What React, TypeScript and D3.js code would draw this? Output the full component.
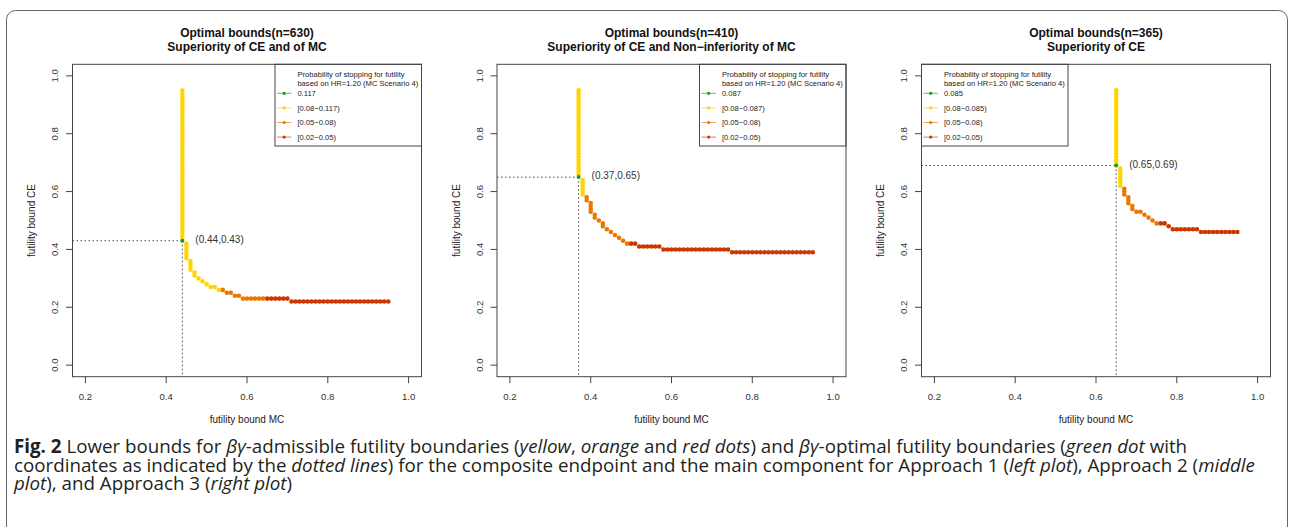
import React from 'react';
import * as d3 from 'd3';

const W = 1289;
const H = 527;

// plot box geometry (R-style base plot, 3 panels side by side)
const panelLefts = [72.5, 497, 921.5];
const PT = 64.3;
const PW = 349;
const PH = 312.4;

const levelColors = ['#1c9a1c', '#FFD400', '#EE7600', '#CD3700'];
const legendLineColors = ['#55cc55', '#ffe04a', '#f4a453', '#d9805f'];

const titleLine1 = ['Optimal bounds(n=630)', 'Optimal bounds(n=410)', 'Optimal bounds(n=365)'];
const titleLine2 = [
  'Superiority of CE and of MC',
  'Superiority of CE and Non\u2212inferiority of MC',
  'Superiority of CE',
];
const legendTitle = ['Probability of stopping for futility', 'based on HR=1.20 (MC Scenario 4)'];
const legendLabels = [
  ['0.117', '[0.08\u22120.117)', '[0.05\u22120.08)', '[0.02\u22120.05)'],
  ['0.087', '[0.08\u22120.087)', '[0.05\u22120.08)', '[0.02\u22120.05)'],
  ['0.085', '[0.08\u22120.085)', '[0.05\u22120.08)', '[0.02\u22120.05)'],
];
const legendSide = ['right', 'right', 'left'];

const optimum = [
  [0.44, 0.43],
  [0.37, 0.65],
  [0.65, 0.69],
];

const xTicks = [0.2, 0.4, 0.6, 0.8, 1.0];
const yTicks = [0.0, 0.2, 0.4, 0.6, 0.8, 1.0];

// resolution of the bound grid
const gridStep = 0.01;

// runs of admissible lower bounds: [mcFrom, mcTo, ceFrom, ceTo, level]
// level 0 = optimal (green), 1 = yellow, 2 = orange, 3 = red
const runs1 = [
  [0.44, 0.44, 0.44, 0.95, 1],
  [0.45, 0.45, 0.37, 0.42, 1],
  [0.46, 0.46, 0.33, 0.36, 1],
  [0.47, 0.47, 0.31, 0.32, 1],
  [0.48, 0.48, 0.30, 0.30, 1],
  [0.49, 0.49, 0.29, 0.29, 1],
  [0.50, 0.50, 0.28, 0.28, 1],
  [0.51, 0.52, 0.27, 0.27, 1],
  [0.53, 0.53, 0.26, 0.26, 1],
  [0.54, 0.54, 0.26, 0.26, 2],
  [0.55, 0.56, 0.25, 0.25, 2],
  [0.57, 0.58, 0.24, 0.24, 2],
  [0.59, 0.64, 0.23, 0.23, 2],
  [0.65, 0.70, 0.23, 0.23, 3],
  [0.71, 0.95, 0.22, 0.22, 3],
  [0.44, 0.44, 0.43, 0.43, 0],
];

const runs2 = [
  [0.37, 0.37, 0.66, 0.95, 1],
  [0.38, 0.38, 0.59, 0.64, 1],
  [0.39, 0.39, 0.57, 0.58, 2],
  [0.40, 0.40, 0.53, 0.56, 2],
  [0.41, 0.41, 0.51, 0.52, 2],
  [0.42, 0.42, 0.50, 0.50, 2],
  [0.43, 0.43, 0.48, 0.49, 2],
  [0.44, 0.44, 0.47, 0.47, 2],
  [0.45, 0.45, 0.46, 0.46, 2],
  [0.46, 0.46, 0.45, 0.45, 2],
  [0.47, 0.47, 0.44, 0.44, 2],
  [0.48, 0.48, 0.43, 0.43, 2],
  [0.49, 0.49, 0.42, 0.42, 2],
  [0.50, 0.51, 0.42, 0.42, 3],
  [0.52, 0.57, 0.41, 0.41, 3],
  [0.58, 0.74, 0.40, 0.40, 3],
  [0.75, 0.95, 0.39, 0.39, 3],
  [0.37, 0.37, 0.65, 0.65, 0],
];

const runs3 = [
  [0.65, 0.65, 0.70, 0.95, 1],
  [0.66, 0.66, 0.62, 0.68, 1],
  [0.67, 0.67, 0.59, 0.61, 2],
  [0.68, 0.68, 0.56, 0.58, 2],
  [0.69, 0.69, 0.54, 0.55, 2],
  [0.70, 0.71, 0.53, 0.53, 2],
  [0.72, 0.72, 0.52, 0.52, 2],
  [0.73, 0.73, 0.51, 0.51, 2],
  [0.74, 0.74, 0.50, 0.50, 2],
  [0.75, 0.75, 0.49, 0.49, 2],
  [0.76, 0.77, 0.49, 0.49, 3],
  [0.78, 0.78, 0.48, 0.48, 3],
  [0.79, 0.85, 0.47, 0.47, 3],
  [0.86, 0.95, 0.46, 0.46, 3],
  [0.65, 0.65, 0.69, 0.69, 0],
];

const allRuns = [runs1, runs2, runs3];

const sans = '"Liberation Sans", Arial, Helvetica, sans-serif';
const captionFont = '"Open Sans", "Noto Sans", sans-serif';

function Panel({ i }) {
  const left = panelLefts[i];
  const x = d3.scaleLinear().domain([0.168, 1.032]).range([left, left + PW]);
  const y = d3.scaleLinear().domain([-0.04, 1.04]).range([PT + PH, PT]);
  const cx = left + PW / 2;
  const cy = PT + PH / 2;
  const [ox, oy] = optimum[i];

  const stepX = x(gridStep) - x(0);
  const stepY = y(0) - y(gridStep);

  // legend box
  const lw = 146.5;
  const lh = 81.7;
  const lx = legendSide[i] === 'right' ? left + PW - lw : left;
  const ly = PT;

  return (
    <g>
      {/* titles */}
      <text x={cx} y={37} textAnchor="middle" fontFamily={sans} fontWeight="bold" fontSize={12} fill="#111">
        {titleLine1[i]}
      </text>
      <text x={cx} y={51.4} textAnchor="middle" fontFamily={sans} fontWeight="bold" fontSize={12} fill="#111">
        {titleLine2[i]}
      </text>

      {/* dotted reference lines */}
      <line x1={left} x2={x(ox)} y1={y(oy)} y2={y(oy)} stroke="#444" strokeWidth={1} strokeDasharray="1.5 2.5" />
      <line x1={x(ox)} x2={x(ox)} y1={y(oy)} y2={PT + PH} stroke="#444" strokeWidth={1} strokeDasharray="1.5 2.5" />

      {/* bound points */}
      {allRuns[i].map((r, k) => {
        const [a, b, c, d, lev] = r;
        const col = levelColors[lev];
        if (a === b && c === d) {
          return <circle key={k} cx={x(a)} cy={y(c)} r={lev === 0 ? 2 : 2.3} fill={col} />;
        }
        const s = (a === b ? stepY : stepX) - 0.002;
        return (
          <path
            key={k}
            d={`M${x(a)},${y(c)}L${x(b)},${y(d)}`}
            stroke={col}
            strokeWidth={4.6}
            strokeLinecap="round"
            strokeDasharray={`0 ${s}`}
            fill="none"
          />
        );
      })}

      <text x={x(ox) + 13} y={y(oy) + 2} fontFamily={sans} fontSize={10} fill="#333">
        {`(${ox.toFixed(2)},${oy.toFixed(2)})`}
      </text>

      {/* legend */}
      <rect x={lx} y={ly} width={lw} height={lh} fill="#fff" stroke="#444" strokeWidth={1} />
      {legendTitle.map((t, k) => (
        <text key={k} x={lx + 22.4} y={ly + 13 + k * 8.6} fontFamily={sans} fontSize={7.6} fill="#222">
          {t}
        </text>
      ))}
      {legendLabels[i].map((t, k) => {
        const yy = ly + 29 + k * 14.6;
        return (
          <g key={k}>
            <line x1={lx + 2} x2={lx + 16.4} y1={yy} y2={yy} stroke={legendLineColors[k]} strokeWidth={1} />
            <circle cx={lx + 9.2} cy={yy} r={1.6} fill={levelColors[k]} />
            <text x={lx + 22.4} y={yy + 2.7} fontFamily={sans} fontSize={7.6} fill="#222">
              {t}
            </text>
          </g>
        );
      })}

      {/* box */}
      <rect x={left} y={PT} width={PW} height={PH} fill="none" stroke="#444" strokeWidth={1} />

      {/* x axis */}
      {xTicks.map((t) => (
        <g key={t}>
          <line x1={x(t)} x2={x(t)} y1={PT + PH} y2={PT + PH + 6.5} stroke="#444" />
          <text x={x(t)} y={400.3} textAnchor="middle" fontFamily={sans} fontSize={9.6} fill="#333">
            {t.toFixed(1)}
          </text>
        </g>
      ))}
      <text x={cx} y={423} textAnchor="middle" fontFamily={sans} fontSize={10} fill="#222">
        futility bound MC
      </text>

      {/* y axis */}
      {yTicks.map((t) => (
        <g key={t}>
          <line x1={left} x2={left - 6.5} y1={y(t)} y2={y(t)} stroke="#444" />
          <text
            transform={`translate(${left - 14.2},${y(t)}) rotate(-90)`}
            textAnchor="middle"
            fontFamily={sans}
            fontSize={9.6}
            fill="#333"
          >
            {t.toFixed(1)}
          </text>
        </g>
      ))}
      <text
        transform={`translate(${left - 37.3},${cy}) rotate(-90)`}
        textAnchor="middle"
        fontFamily={sans}
        fontSize={10}
        fill="#222"
      >
        futility bound CE
      </text>
    </g>
  );
}

// first caption line should run from x=14 to about x=1188
const captionTargetWidth = 1174;

function Caption() {
  const it = { fontStyle: 'italic' };
  const firstLine = React.useRef(null);
  const [size, setSize] = React.useState(17);

  React.useLayoutEffect(() => {
    if (!firstLine.current) return;
    const w = firstLine.current.getComputedTextLength();
    if (w > 0 && Math.abs(w - captionTargetWidth) > 1) {
      setSize((s) => (s * captionTargetWidth) / w);
    }
  }, [size]);

  return (
    <g fontFamily={captionFont} fontSize={size} fill="#231f20">
      <text ref={firstLine} x={14} y={453}>
        <tspan fontWeight="bold">Fig. 2</tspan>
        <tspan> Lower bounds for </tspan>
        <tspan style={it}>βγ</tspan>
        <tspan>-admissible futility boundaries (</tspan>
        <tspan style={it}>yellow</tspan>
        <tspan>, </tspan>
        <tspan style={it}>orange</tspan>
        <tspan> and </tspan>
        <tspan style={it}>red dots</tspan>
        <tspan>) and </tspan>
        <tspan style={it}>βγ</tspan>
        <tspan>-optimal futility boundaries (</tspan>
        <tspan style={it}>green dot</tspan>
        <tspan> with</tspan>
      </text>
      <text x={14} y={471.5}>
        <tspan>coordinates as indicated by the </tspan>
        <tspan style={it}>dotted lines</tspan>
        <tspan>) for the composite endpoint and the main component for Approach 1 (</tspan>
        <tspan style={it}>left plot</tspan>
        <tspan>), Approach 2 (</tspan>
        <tspan style={it}>middle</tspan>
      </text>
      <text x={14} y={490}>
        <tspan style={it}>plot</tspan>
        <tspan>), and Approach 3 (</tspan>
        <tspan style={it}>right plot</tspan>
        <tspan>)</tspan>
      </text>
    </g>
  );
}

export default function App() {
  React.useEffect(() => {
    document.body.style.margin = '0';
  }, []);
  return (
    <svg width={W} height={H} style={{ position: 'absolute', left: 0, top: 0, background: '#fff' }}>
      <rect x={0} y={0} width={W} height={H} fill="#fff" />
      <rect x={6.5} y={10.5} width={1281} height={620} rx={9} fill="none" stroke="#666" strokeWidth={1} />
      {[0, 1, 2].map((i) => (
        <Panel key={i} i={i} />
      ))}
      <Caption />
    </svg>
  );
}
